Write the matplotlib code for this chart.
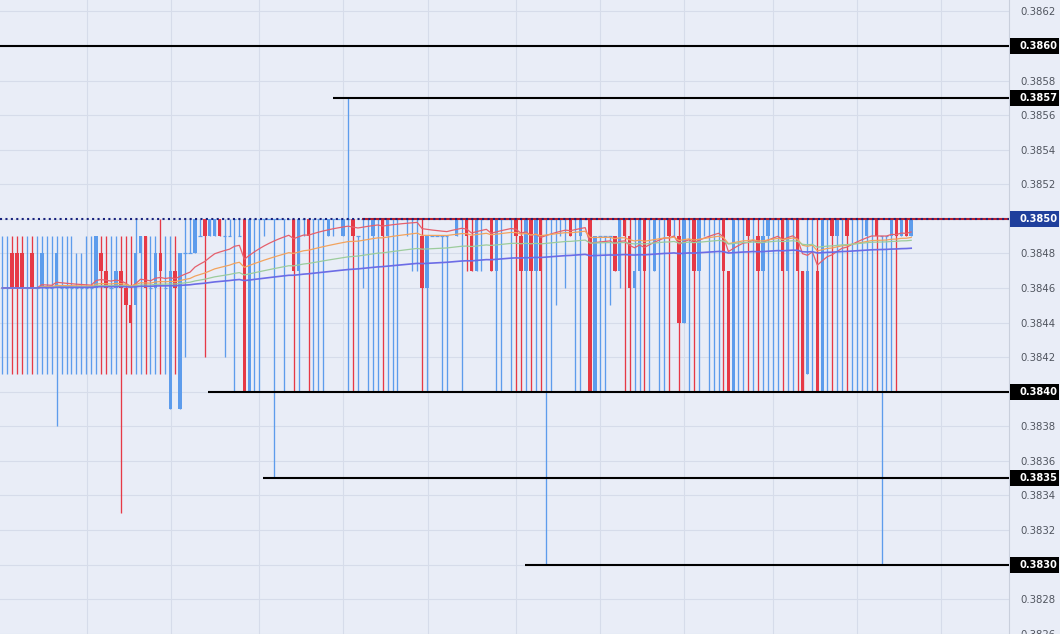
import numpy as np
import pandas as pd
import matplotlib
matplotlib.use("Agg")
import matplotlib.pyplot as plt
import matplotlib.transforms as mtransforms
from matplotlib.patches import Rectangle

# OHLC values, in units of 0.0001 above 0.3800 (e.g. 46 -> 0.3846)
opens = [46,46,48,48,48,46,48,46,46,46, 46,46,46,46,46,46,46,46,46,46,
         48,47,46,46,47,46,45,45,48,49, 46,46,48,46,39,47,39,48,48,48,
         49,50,49,49,50,49,49,50,49,50, 40,50,50,50,50,50,50,50,50,50,
         47,50,50,50,50,50,49,50,50,49, 50,50,49,50,50,49,50,50,49,50,
         50,50,50,50,50,49,46,49,49,49, 49,50,49,50,50,49,47,50,50,50,
         47,50,50,50,50,49,47,50,47,50, 50,50,50,50,50,50,50,49,50,50,
         40,49,49,49,49,47,50,49,46,47, 50,50,47,50,50,50,50,49,44,50,
         50,47,50,50,50,50,50,47,40,50, 50,50,50,49,47,49,50,50,50,47,
         50,50,47,41,50,47,40,50,50,49, 50,50,50,50,50,49,50,50,49,49,
         49,50,49,50,49]
highs = [49,49,49,49,49,49,49,49,49,49, 49,49,49,49,49,48,48,49,49,49,
         49,49,49,49,49,49,49,50,49,49, 49,49,50,49,49,49,48,50,50,50,
         50,50,50,50,50,50,50,50,50,50, 50,50,50,50,50,50,50,50,50,50,
         50,50,50,50,50,50,50,50,50,50, 57,50,49,50,50,50,50,50,50,50,
         50,50,50,50,50,50,49,49,49,49, 49,50,50,50,50,50,50,50,50,50,
         50,50,50,50,50,50,50,50,50,50, 50,50,50,50,50,50,50,50,50,50,
         49,49,49,49,49,50,50,50,50,50, 50,50,50,50,50,50,50,50,50,50,
         50,50,50,50,50,50,50,47,50,50, 50,50,50,50,50,50,50,50,50,50,
         50,50,47,50,50,50,50,50,50,50, 50,50,50,50,50,50,50,50,49,49,
         50,50,50,50,50]
lows = [41,41,41,41,41,41,41,41,41,41, 41,38,41,41,41,41,41,41,41,41,
        41,41,41,41,33,41,41,41,41,41, 41,41,41,41,39,41,39,42,48,48,
        49,42,49,49,49,42,49,40,49,40, 40,40,40,49,50,35,50,40,50,40,
        40,49,40,40,40,40,49,49,50,49, 40,40,40,46,40,40,40,40,40,40,
        40,50,49,47,47,40,40,49,49,40, 40,50,49,40,47,47,47,47,50,47,
        40,40,50,40,40,40,40,40,40,40, 30,40,45,49,46,49,40,40,50,40,
        40,40,40,45,47,46,40,40,40,40, 40,40,47,40,40,40,49,40,44,40,
        40,40,49,40,40,40,40,40,40,40, 40,40,40,40,40,40,40,40,40,40,
        40,40,40,41,40,40,40,40,40,40, 40,40,40,40,40,40,40,40,30,40,
        40,40,49,49,49]
closes = [46,46,46,46,46,46,46,46,48,46, 46,48,46,46,46,46,46,46,46,49,
          47,46,46,47,46,45,44,48,49,46, 46,48,47,46,47,46,48,48,48,50,
          49,49,50,50,49,49,49,50,49,40, 50,50,50,50,50,50,50,50,50,47,
          50,50,49,50,50,50,50,50,50,50, 50,49,49,50,50,50,50,49,50,50,
          50,50,50,50,50,46,49,49,49,49, 49,50,50,50,49,47,50,50,50,47,
          50,50,50,50,49,47,50,47,50,47, 50,50,50,50,50,49,50,50,50,40,
          49,49,49,49,47,50,49,46,47,50, 47,50,50,50,50,49,50,44,50,50,
          47,50,50,50,50,50,47,40,50,50, 50,49,50,47,49,50,50,50,47,50,
          50,47,40,47,50,40,50,50,49,50, 50,49,50,50,50,50,50,49,49,49,
          50,49,50,49,50]

ema_spans = [20, 50, 100, 200]
ema_colors = ["#e5606c", "#f2a35e", "#9ccc9c", "#6c6ce6"]
ema_widths = [0.9, 0.9, 0.9, 1.2]

levels = [0.3860, 0.3857, 0.3840, 0.3835, 0.3830]
level_starts = [-0.5, 66.9, 41.6, 52.8, 105.8]
last_price = 0.3850
red_level_start = 72.8
time_grid = [17.1, 34.2, 51.9, 69.0, 86.2, 104.0, 121.0, 138.0, 156.0, 173.0, 190.0]

BLUE = "#5d9cec"
RED = "#e63946"
BG = "#e9edf7"
GRID = "#d6dcea"

o_i = np.array(opens); h_i = np.array(highs); l_i = np.array(lows); c_i = np.array(closes)
o = 0.38 + o_i / 1e4; h = 0.38 + h_i / 1e4; l = 0.38 + l_i / 1e4; c = 0.38 + c_i / 1e4
n = len(o)
x = np.arange(n)

W, H = 1060, 634
fig = plt.figure(figsize=(W / 100, H / 100), dpi=100)
fig.patch.set_facecolor(BG)
ax = fig.add_axes([0, 0, 1009 / W, 1])
ax.set_facecolor(BG)

ax.set_xlim(-0.466, 203.8)
ax.set_ylim(0.3825985, 0.386266)

boxed = set(["%.4f" % v for v in levels + [last_price]])
yt = np.round(np.arange(0.3826, 0.38621, 0.0002), 4)
ax.set_yticks(yt)
ax.set_yticklabels(["" if ("%.4f" % v) in boxed else "%.4f" % v for v in yt])
ax.set_xticks(time_grid)
ax.set_xticklabels([])
ax.yaxis.tick_right()
ax.tick_params(axis="both", length=0)
ax.tick_params(axis="y", pad=7.9, labelsize=7.3, labelcolor="#50555f")
ax.grid(True, color=GRID, lw=0.8, zorder=0)
ax.set_axisbelow(True)
for s in ["top", "left", "bottom"]:
    ax.spines[s].set_visible(False)
ax.spines["right"].set_color("#c9cfdc")
ax.spines["right"].set_linewidth(0.8)

up = c_i >= o_i
for color, mask in [(BLUE, up), (RED, ~up)]:
    ax.vlines(x[mask], l[mask], h[mask], color=color, lw=0.95, zorder=3)
    bm = mask & (c_i != o_i)
    ax.bar(x[bm], np.abs(c - o)[bm], bottom=np.minimum(o, c)[bm], width=0.7,
           color=color, linewidth=0, zorder=4)
    dm = mask & (c_i == o_i)
    ax.hlines(o[dm], x[dm] - 0.33, x[dm] + 0.33, color=color, lw=0.9, zorder=4)

cs = pd.Series(c)
for span, col, lw in zip(ema_spans, ema_colors, ema_widths):
    ax.plot(x, cs.ewm(span=span, adjust=False).mean(), color=col, lw=lw, zorder=5)

xr = ax.get_xlim()[1]
ax.hlines(last_price, red_level_start, xr, color="#b5202e", lw=1.5, zorder=6)
ax.plot([ax.get_xlim()[0], xr], [last_price, last_price], color="#1a237e",
        lw=1.5, linestyle=(0, (1, 1.6)), zorder=7)
for lv, st in zip(levels, level_starts):
    ax.hlines(lv, st, xr, color="black", lw=1.5, zorder=8)

trans = mtransforms.blended_transform_factory(fig.transFigure, ax.transData)
hh = 16 / 173.0 * 0.001
boxes = [(lv, "black") for lv in levels] + [(last_price, "#1f3f9c")]
for lv, fc in boxes:
    fig.add_artist(Rectangle((1010 / W, lv - hh / 2), 49 / W, hh, transform=trans,
                             facecolor=fc, edgecolor="none", zorder=10))
    fig.text(1020 / W, lv, "%.4f" % lv, transform=trans, color="white",
             fontsize=7.1, fontweight="bold", ha="left", va="center", zorder=11)

fig.savefig("out.png", dpi=100, facecolor=BG)
